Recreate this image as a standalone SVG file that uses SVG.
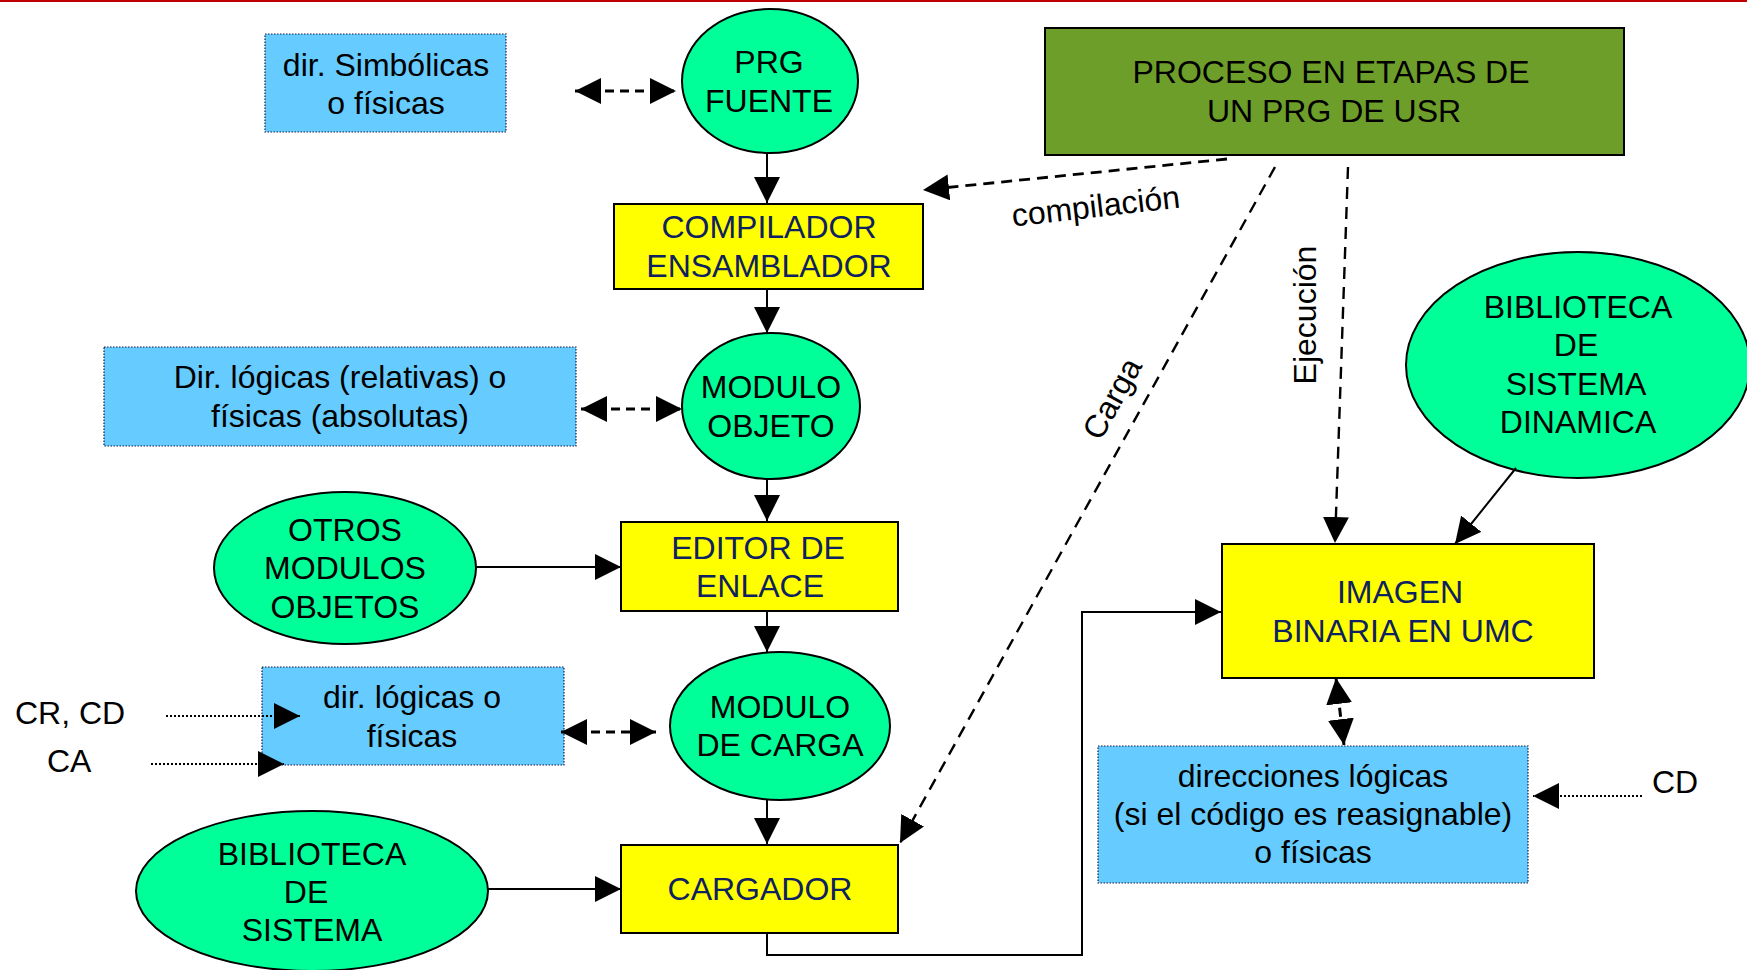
<svg xmlns="http://www.w3.org/2000/svg" width="1747" height="970" viewBox="0 0 1747 970">
<defs>
<style>
text{font-family:"Liberation Sans",Arial,sans-serif;font-size:32px;fill:#000;text-anchor:middle}
.nv{fill:#0E2160}
.lbl{font-size:32px}
.st{text-anchor:start}
.ell{fill:#00FF99;stroke:#000;stroke-width:2}
.yb{fill:#FFFF00;stroke:#000;stroke-width:2}
.bb{fill:#66CCFF;stroke:#1a1a40;stroke-width:1.2;stroke-dasharray:1.5 1.5}
.sol{fill:none;stroke:#000;stroke-width:2}
.dd{fill:none;stroke:#000;stroke-width:3;stroke-dasharray:9 6}
.dl{fill:none;stroke:#000;stroke-width:2.4;stroke-dasharray:12 8}
.dc{fill:none;stroke:#000;stroke-width:2.8;stroke-dasharray:11 7}
.dot{fill:none;stroke:#000;stroke-width:2;stroke-dasharray:2 2}
</style>
<marker id="ah" viewBox="0 0 10 10" refX="10" refY="5" markerWidth="26" markerHeight="26" markerUnits="userSpaceOnUse" orient="auto-start-reverse"><path d="M0,0L10,5L0,10z" fill="#000"/></marker>
</defs>
<rect x="0" y="0" width="1747" height="2" fill="#C00000"/>

<g id="dir-simbolicas">
<rect class="bb" x="265" y="34" width="241" height="98"/>
<text x="386" y="76">dir. Simbólicas</text>
<text x="386" y="114">o físicas</text>
</g>

<g id="prg-fuente">
<ellipse class="ell" cx="770" cy="81" rx="88" ry="72"/>
<text x="769" y="73">PRG</text>
<text x="769" y="112">FUENTE</text>
</g>

<g id="proceso">
<rect x="1045" y="28" width="579" height="127" fill="#6E9E2A" stroke="#000" stroke-width="2"/>
<text x="1331" y="83">PROCESO EN ETAPAS DE</text>
<text x="1334" y="122">UN PRG DE USR</text>
</g>

<g id="compilador">
<rect class="yb" x="614" y="204" width="309" height="85"/>
<text class="nv" x="769" y="238">COMPILADOR</text>
<text class="nv" x="769" y="277">ENSAMBLADOR</text>
</g>

<g id="dir-logicas-rel">
<rect class="bb" x="104" y="347" width="472" height="99"/>
<text x="340" y="388">Dir. lógicas (relativas) o</text>
<text x="340" y="427">físicas (absolutas)</text>
</g>

<g id="modulo-objeto">
<ellipse class="ell" cx="771" cy="406" rx="89" ry="73"/>
<text x="771" y="398">MODULO</text>
<text x="771" y="437">OBJETO</text>
</g>

<g id="biblioteca-dinamica">
<ellipse class="ell" cx="1578" cy="365" rx="172" ry="113"/>
<text x="1578" y="318">BIBLIOTECA</text>
<text x="1576" y="356">DE</text>
<text x="1576" y="395">SISTEMA</text>
<text x="1578" y="433">DINAMICA</text>
</g>

<g id="otros-modulos">
<ellipse class="ell" cx="345" cy="568" rx="131" ry="76"/>
<text x="345" y="541">OTROS</text>
<text x="345" y="579">MODULOS</text>
<text x="345" y="618">OBJETOS</text>
</g>

<g id="editor-enlace">
<rect class="yb" x="621" y="522" width="277" height="89"/>
<text class="nv" x="758" y="559">EDITOR DE</text>
<text class="nv" x="760" y="597">ENLACE</text>
</g>

<g id="imagen-binaria">
<rect class="yb" x="1222" y="544" width="372" height="134"/>
<text class="nv" x="1400" y="603">IMAGEN</text>
<text class="nv" x="1403" y="642">BINARIA EN UMC</text>
</g>

<g id="dir-logicas-fisicas">
<rect class="bb" x="262" y="667" width="302" height="98"/>
<text x="412" y="708">dir. lógicas o</text>
<text x="412" y="747">físicas</text>
</g>

<g id="cr-cd"><text class="st" x="15" y="724">CR, CD</text></g>
<g id="ca"><text class="st" x="47" y="772">CA</text></g>

<g id="modulo-carga">
<ellipse class="ell" cx="780" cy="726" rx="110" ry="74"/>
<text x="780" y="718">MODULO</text>
<text x="780" y="756">DE CARGA</text>
</g>

<g id="direcciones">
<rect class="bb" x="1098" y="746" width="430" height="137"/>
<text x="1313" y="787">direcciones lógicas</text>
<text x="1313" y="825">(si el código es reasignable)</text>
<text x="1313" y="863">o físicas</text>
</g>

<g id="cd"><text class="st" x="1652" y="793">CD</text></g>

<g id="biblioteca-sistema">
<ellipse class="ell" cx="312" cy="891" rx="176" ry="80"/>
<text x="312" y="865">BIBLIOTECA</text>
<text x="306" y="903">DE</text>
<text x="312" y="941">SISTEMA</text>
</g>

<g id="cargador">
<rect class="yb" x="621" y="845" width="277" height="88"/>
<text class="nv" x="760" y="900">CARGADOR</text>
</g>

<g id="connectors">
<line class="sol" x1="767" y1="153" x2="767" y2="203" marker-end="url(#ah)"/>
<line class="sol" x1="767" y1="289" x2="767" y2="333" marker-end="url(#ah)"/>
<line class="sol" x1="767" y1="479" x2="767" y2="521" marker-end="url(#ah)"/>
<line class="sol" x1="767" y1="611" x2="767" y2="652" marker-end="url(#ah)"/>
<line class="sol" x1="767" y1="800" x2="767" y2="844" marker-end="url(#ah)"/>
<line class="sol" x1="475" y1="567" x2="621" y2="567" marker-end="url(#ah)"/>
<line class="sol" x1="488" y1="889" x2="621" y2="889" marker-end="url(#ah)"/>
<polyline class="sol" points="767,934 767,955 1082,955 1082,612 1221,612" marker-end="url(#ah)"/>
<line class="dd" x1="575" y1="91" x2="676" y2="91" marker-start="url(#ah)" marker-end="url(#ah)"/>
<line class="dd" x1="581" y1="409" x2="682" y2="409" marker-start="url(#ah)" marker-end="url(#ah)"/>
<line class="dd" x1="561" y1="732" x2="656" y2="732" marker-start="url(#ah)" marker-end="url(#ah)"/>
<line class="dd" x1="1336" y1="678" x2="1344" y2="745" marker-start="url(#ah)" marker-end="url(#ah)"/>
<line class="dc" x1="1227" y1="159" x2="923" y2="190" marker-end="url(#ah)"/>
<line class="dl" x1="1275" y1="167" x2="900" y2="843" marker-end="url(#ah)"/>
<line class="dl" x1="1348" y1="167" x2="1335" y2="543" marker-end="url(#ah)"/>
<line class="sol" x1="1516" y1="468" x2="1455" y2="544" marker-end="url(#ah)"/>
<line class="dot" x1="166" y1="716" x2="300" y2="716" marker-end="url(#ah)"/>
<line class="dot" x1="151" y1="764" x2="284" y2="764" marker-end="url(#ah)"/>
<line class="dot" x1="1642" y1="796" x2="1533" y2="796" marker-end="url(#ah)"/>
<text class="lbl" transform="translate(1097,217) rotate(-6.5)">compilación</text>
<text class="lbl" transform="translate(1113,399) rotate(-61)" y="10">Carga</text>
<text class="lbl" transform="translate(1316,315) rotate(-90)">Ejecución</text>
</g>
</svg>
